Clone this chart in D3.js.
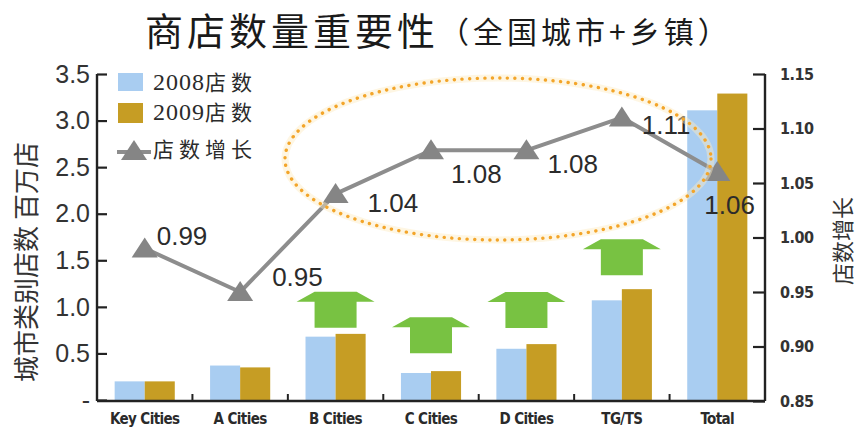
<!DOCTYPE html>
<html>
<head>
<meta charset="utf-8">
<script src="https://cdn.jsdelivr.net/npm/d3@7"></script>
<style>
  html, body { margin: 0; padding: 0; background: #fff; }
  svg { display: block; }
</style>
</head>
<body>
<svg id="chart" width="859" height="432"></svg>
<script>
// ---- data ----
const categories = ["Key Cities", "A Cities", "B Cities", "C Cities", "D Cities", "TG/TS", "Total"];
const stores2008 = [0.20, 0.37, 0.68, 0.29, 0.55, 1.07, 3.11];   // 百万店
const stores2009 = [0.20, 0.35, 0.71, 0.31, 0.60, 1.19, 3.29];   // 百万店
const growth     = [0.99, 0.95, 1.04, 1.08, 1.08, 1.11, 1.06];   // 店数增长
const seriesNames = ["2008店数", "2009店数", "店数增长"];
const leftTicks = [0, 0.5, 1.0, 1.5, 2.0, 2.5, 3.0, 3.5];
const leftTickLabels = ["-", "0.5", "1.0", "1.5", "2.0", "2.5", "3.0", "3.5"];
const rightTicks = [0.85, 0.90, 0.95, 1.00, 1.05, 1.10, 1.15];
const rightTickLabels = ["0.85", "0.90", "0.95", "1.00", "1.05", "1.10", "1.15"];
const arrowCategories = ["B Cities", "C Cities", "D Cities", "TG/TS"];

// ---- layout ----
const plot = { left: 97, right: 765, top: 74, bottom: 401 };
const colors = { y2008: "#a9cdf1", y2009: "#c69d24", line: "#8d8d8d", marker: "#858585",
                 arrow: "#78c242", axis: "#222", text: "#333", ring: "#f3a52a" };
// label placement (offset of text start / vertical centre from each point)
const labelOffsets = [[12, -13], [32, -15], [32, 9], [20, 24], [21, 14], [20, 7], [-13, 33]];
// gap between bar tops and the green arrows
const arrowLift = [6, 18, 16, 14];

const svg = d3.select("#chart");

const x = d3.scaleBand().domain(categories).range([plot.left, plot.right]).paddingInner(0).paddingOuter(0);
const groupW = x.bandwidth() * 0.63;
const x1 = d3.scaleBand().domain(["2008", "2009"]).range([0, groupW]);
const yL = d3.scaleLinear().domain([0, 3.5]).range([plot.bottom - 1, plot.top]);
const yR = d3.scaleLinear().domain([0.85, 1.15]).range([plot.bottom, plot.top]);

// ---- title ----
const title = svg.append("text")
  .attr("x", 145).attr("y", 45)
  .attr("font-family", "'Noto Sans CJK SC', sans-serif")
  .attr("fill", "#1a1a1a");
title.append("tspan").attr("font-size", 38).attr("letter-spacing", 4).text("商店数量重要性");
title.append("tspan").attr("font-size", 30).attr("letter-spacing", 4).attr("dy", -2).text("（全国城市+乡镇）");

// ---- bars ----
const barData = categories.map((c, i) => ({ c, v8: stores2008[i], v9: stores2009[i] }));
const groups = svg.append("g").selectAll("g").data(barData).join("g")
  .attr("transform", d => `translate(${x(d.c) + (x.bandwidth() - groupW) / 2},0)`);
groups.append("rect")
  .attr("x", x1("2008")).attr("width", x1.bandwidth())
  .attr("y", d => yL(d.v8)).attr("height", d => yL(0) - yL(d.v8))
  .attr("fill", colors.y2008);
groups.append("rect")
  .attr("x", x1("2009")).attr("width", x1.bandwidth())
  .attr("y", d => yL(d.v9)).attr("height", d => yL(0) - yL(d.v9))
  .attr("fill", colors.y2009);

// ---- green growth arrows over the bars ----
const arrowPath = (cx, base) => {
  const top = base - 36;
  return `M${cx - 21},${top} L${cx + 21},${top} L${cx + 39},${top + 10} L${cx + 21},${top + 10}
          L${cx + 21},${base} L${cx - 21},${base} L${cx - 21},${top + 10} L${cx - 39},${top + 10} Z`;
};
svg.append("g").selectAll("path").data(arrowCategories).join("path")
  .attr("d", (c, i) => {
    const k = categories.indexOf(c);
    const cx = x(c) + x.bandwidth() / 2;
    const base = yL(Math.max(stores2008[k], stores2009[k])) - arrowLift[i];
    return arrowPath(cx, base);
  })
  .attr("fill", colors.arrow);

// ---- axes ----
const axisG = svg.append("g").attr("stroke", colors.axis).attr("stroke-width", 2.4);
axisG.append("line").attr("x1", plot.left).attr("x2", plot.left).attr("y1", plot.top).attr("y2", plot.bottom);
axisG.append("line").attr("x1", plot.right).attr("x2", plot.right).attr("y1", plot.top).attr("y2", plot.bottom);
axisG.append("line").attr("x1", plot.left).attr("x2", plot.right).attr("y1", plot.bottom).attr("y2", plot.bottom);

// left axis: inward ticks
const leftAxis = d3.axisRight(yL).tickValues(leftTicks).tickSize(10).tickFormat("");
svg.append("g").attr("transform", `translate(${plot.left},0)`).call(leftAxis)
  .call(g => g.select(".domain").remove())
  .call(g => g.selectAll("line").attr("stroke", colors.axis).attr("stroke-width", 2.2));
svg.append("g").selectAll("text").data(leftTicks).join("text")
  .attr("x", plot.left - 7).attr("y", d => yL(d)).attr("dy", "0.35em")
  .attr("text-anchor", "end")
  .attr("font-family", "'Liberation Sans', sans-serif").attr("font-size", 25)
  .attr("fill", colors.text)
  .text((d, i) => leftTickLabels[i]);

// right axis: inward ticks
const rightAxis = d3.axisLeft(yR).tickValues(rightTicks).tickSize(12).tickFormat("");
svg.append("g").attr("transform", `translate(${plot.right},0)`).call(rightAxis)
  .call(g => g.select(".domain").remove())
  .call(g => g.selectAll("line").attr("stroke", colors.axis).attr("stroke-width", 2.2));
svg.append("g").selectAll("text").data(rightTicks).join("text")
  .attr("x", plot.right + 15).attr("y", d => yR(d)).attr("dy", "0.35em")
  .attr("font-family", "'DejaVu Sans Condensed', 'DejaVu Sans', sans-serif")
  .attr("font-stretch", "condensed")
  .attr("font-weight", "bold").attr("font-size", 16).attr("letter-spacing", -0.5)
  .attr("fill", colors.text)
  .text((d, i) => rightTickLabels[i]);

// category axis: small ticks between categories, labels below
svg.append("g").selectAll("line").data(categories.slice(1)).join("line")
  .attr("x1", d => x(d)).attr("x2", d => x(d))
  .attr("y1", plot.bottom).attr("y2", plot.bottom - 7)
  .attr("stroke", colors.axis).attr("stroke-width", 2);
svg.append("g").selectAll("text").data(categories).join("text")
  .attr("x", d => x(d) + x.bandwidth() / 2).attr("y", 424)
  .attr("text-anchor", "middle")
  .attr("font-family", "'DejaVu Sans Condensed', 'DejaVu Sans', sans-serif")
  .attr("font-stretch", "condensed")
  .attr("font-weight", "bold").attr("font-size", 15).attr("letter-spacing", -0.6)
  .attr("fill", "#2a2a2a")
  .text(d => d);

// axis titles
svg.append("text")
  .attr("transform", "translate(36,262) rotate(-90)")
  .attr("text-anchor", "middle")
  .attr("font-family", "'Noto Sans CJK SC', sans-serif").attr("font-size", 26)
  .attr("fill", colors.text)
  .text("城市类别店数 百万店");
svg.append("text")
  .attr("transform", "translate(851,241) rotate(-90)")
  .attr("text-anchor", "middle")
  .attr("font-family", "'Noto Sans CJK SC', sans-serif").attr("font-size", 22)
  .attr("fill", colors.text)
  .text("店数增长");

// ---- growth line ----
const cx = c => x(c) + x.bandwidth() / 2;
const line = d3.line().x((d, i) => cx(categories[i])).y(d => yR(d));
svg.append("path").datum(growth)
  .attr("d", line).attr("fill", "none")
  .attr("stroke", colors.line).attr("stroke-width", 4).attr("stroke-linejoin", "round");
const tri = "M0,-11 L13,9 L-13,9 Z";
svg.append("g").selectAll("path").data(growth).join("path")
  .attr("transform", (d, i) => `translate(${cx(categories[i])},${yR(d)})`)
  .attr("d", tri).attr("fill", colors.marker);
svg.append("g").selectAll("text").data(growth).join("text")
  .attr("x", (d, i) => cx(categories[i]) + labelOffsets[i][0])
  .attr("y", (d, i) => yR(d) + labelOffsets[i][1]).attr("dy", "0.35em")
  .attr("font-family", "'Liberation Sans', sans-serif").attr("font-size", 26)
  .attr("fill", "#2b2b2b")
  .text(d => d3.format(".2f")(d));

// ---- dotted highlight ring ----
svg.append("ellipse")
  .attr("cx", 498).attr("cy", 159).attr("rx", 213).attr("ry", 81)
  .attr("fill", "none").attr("stroke", "#fcecc0").attr("stroke-width", 7).attr("opacity", 0.45);
svg.append("ellipse")
  .attr("cx", 498).attr("cy", 159).attr("rx", 213).attr("ry", 81)
  .attr("fill", "none").attr("stroke", colors.ring).attr("stroke-width", 3.4)
  .attr("stroke-linecap", "round").attr("stroke-dasharray", "0.1 7.5");

// ---- legend ----
const legend = svg.append("g");
legend.append("rect").attr("x", 118).attr("y", 73).attr("width", 25).attr("height", 18).attr("fill", colors.y2008);
legend.append("rect").attr("x", 118).attr("y", 103).attr("width", 25).attr("height", 20).attr("fill", colors.y2009);
legend.append("line").attr("x1", 117).attr("x2", 151).attr("y1", 152).attr("y2", 152)
  .attr("stroke", colors.line).attr("stroke-width", 4);
legend.append("path").attr("transform", "translate(134,151)").attr("d", tri).attr("fill", colors.marker);
const legendRows = [84, 114, 151];
seriesNames.forEach((name, i) => {
  const t = legend.append("text").attr("x", 153).attr("y", legendRows[i]).attr("dy", "0.35em")
    .attr("fill", "#2b2b2b");
  const m = name.match(/^(\d*)(.*)$/);
  if (m[1]) t.append("tspan").attr("font-family", "'Liberation Serif', serif").attr("font-size", 24)
      .attr("letter-spacing", 1).text(m[1]);
  t.append("tspan").attr("font-family", "'Noto Sans CJK SC', sans-serif").attr("font-size", 21)
    .attr("letter-spacing", 5).text(m[2]);
});
</script>
</body>
</html>
